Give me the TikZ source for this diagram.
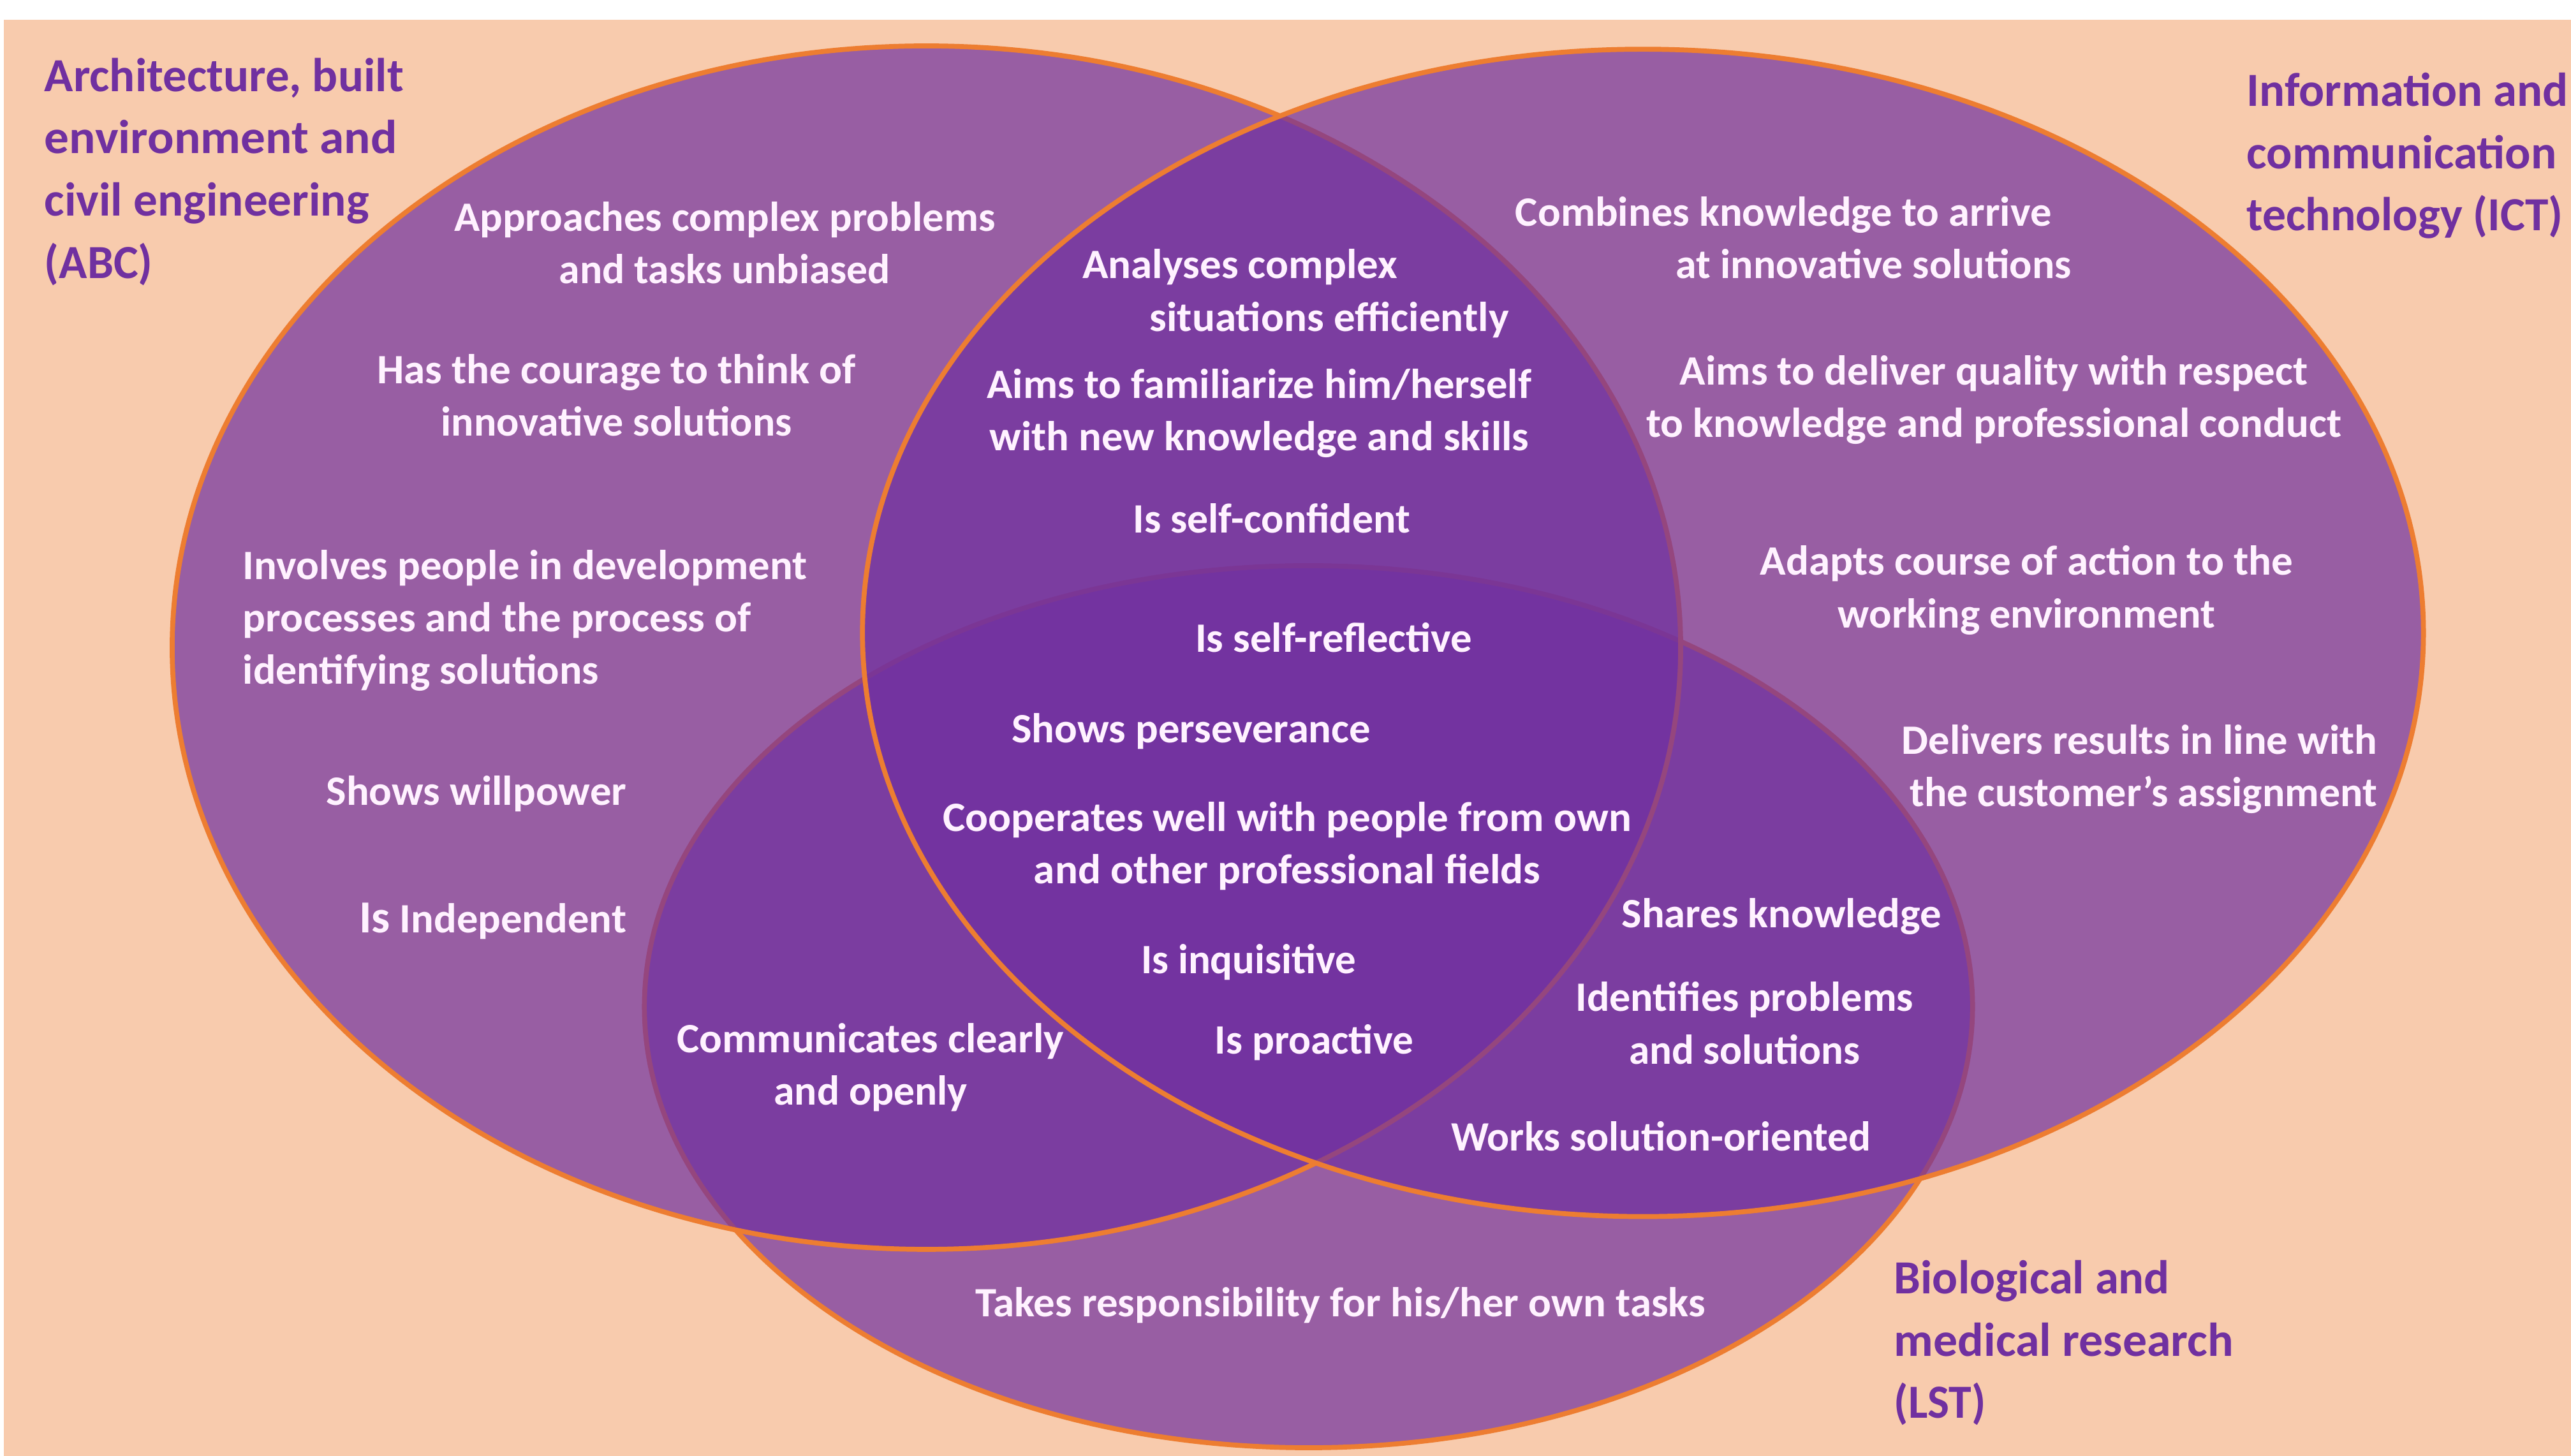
\documentclass[tikz,border=0pt]{standalone}
\usepackage{fontspec}
\setmainfont{Carlito}
\usepackage{graphicx}
\definecolor{peach}{HTML}{F8CBAD}
\definecolor{vorange}{HTML}{ED7D31}
\definecolor{vpurple}{HTML}{7030A0}
\definecolor{txtw}{HTML}{FFF2FF}
\newcommand{\fw}[2]{\resizebox{#1pt}{\height}{#2}}
\begin{document}
\begin{tikzpicture}[x=1pt,y=-1pt,
  venn/.style={fill=vpurple, fill opacity=0.7, draw=vorange, draw opacity=1, line width=3pt},
  wt/.style={text=txtw, inner sep=0pt, font=\bfseries\fontsize{25.5}{32}\selectfont},
  lbl/.style={text=vpurple, inner sep=0pt, align=left, anchor=west, font=\bfseries\fontsize{29}{38}\selectfont}]
\useasboundingbox (0,0) rectangle (1568,888);
\fill[white] (0,0) rectangle (1568,888);
\fill[peach] (2.5,12) rectangle (1568,888);
% sets
\draw[venn] (798,614) ellipse [x radius=405pt, y radius=269pt];
\draw[venn] (565,395) ellipse [x radius=460pt, y radius=367pt];
\draw[venn] (1002,386) ellipse [x radius=476pt, y radius=356pt];
% set labels
\node[lbl] (abc) at (27,104.75) {\fw{219}{Architecture, built}\\\fw{215}{environment  and}\\\fw{198}{civil engineering}\\\fw{66}{(ABC)}};
\node[lbl] (ict) at (1370,95) {\fw{196}{Information and}\\\fw{189}{communication}\\\fw{193}{technology (ICT)}};
\node[lbl] (lst) at (1155,819) {\fw{168}{Biological and}\\\fw{207}{medical research}\\\fw{56}{(LST)}};
% ABC only
\node[wt, align=center] (approach) at (442,148) {\fw{330}{Approaches complex problems}\\\fw{202}{and tasks unbiased}};
\node[wt, align=center] (courage) at (376,241) {\fw{292}{Has the courage to think of}\\\fw{214}{innovative solutions}};
\node[wt, align=left, anchor=west] (involves) at (148,378.5) {\fw{344}{Involves people in development}\\\fw{310}{processes and the process of}\\\fw{217}{identifying solutions}};
\node[wt] (will) at (290.5,484) {\fw{183}{Shows willpower}};
\node[wt] (indep) at (300.5,562) {\fw{163}{{\fontsize{28}{32}\selectfont Is} Independent}};
% ABC and LST
\node[wt, align=center] (comm) at (531,651) {\fw{236}{Communicates clearly}\\\fw{118}{and openly}};
% ABC and ICT
\node[wt, align=left, anchor=west] (analyses) at (660,179) {\fw{192}{Analyses complex}\\\hspace*{41pt}\fw{219}{situations efficiently}};
\node[wt, align=center] (aims) at (768,252) {\fw{332}{Aims to familiarize him/herself}\\\fw{329}{with new knowledge and skills}};
\node[wt] (confident) at (775.5,316) {\fw{169}{Is self-confident}};
% all three
\node[wt] (reflective) at (813.5,389) {\fw{169}{Is self-reflective}};
\node[wt] (persev) at (726.5,446) {\fw{219}{Shows perseverance}};
\node[wt, align=center] (coop) at (785,516) {\fw{420}{Cooperates well with people from own}\\\fw{309}{and other professional fields}};
\node[wt] (inquis) at (761.5,587) {\fw{131}{Is inquisitive}};
\node[wt] (proact) at (801.5,636) {\fw{121}{Is proactive}};
% LST only
\node[wt] (takes) at (817.5,796) {\fw{445}{Takes responsibility for his/her own tasks}};
% ICT only
\node[wt, align=left, anchor=west] (combines) at (924,145) {\fw{327}{Combines knowledge to arrive}\\\hspace*{98pt}\fw{241}{at innovative solutions}};
\node[wt, align=center] (deliverq) at (1216,244) {\fw{383}{Aims to deliver quality with respect}\\\fw{424}{to knowledge and professional conduct}};
\node[wt, align=center] (adapts) at (1236,360) {\fw{325}{Adapts course of action to the}\\\fw{230}{working environment}};
\node[wt, align=right, anchor=east] (delivers) at (1450,469) {\fw{290}{Delivers results in line with}\\\fw{285}{the customer’s assignment}};
% ICT and LST
\node[wt] (shares) at (1086.5,559) {\fw{195}{Shares knowledge}};
\node[wt, align=center] (identifies) at (1064,624) {\fw{206}{Identifies problems}\\\fw{141}{and solutions}};
\node[wt] (works) at (1013,693) {\fw{256}{Works solution-oriented}};
\end{tikzpicture}
\end{document}
